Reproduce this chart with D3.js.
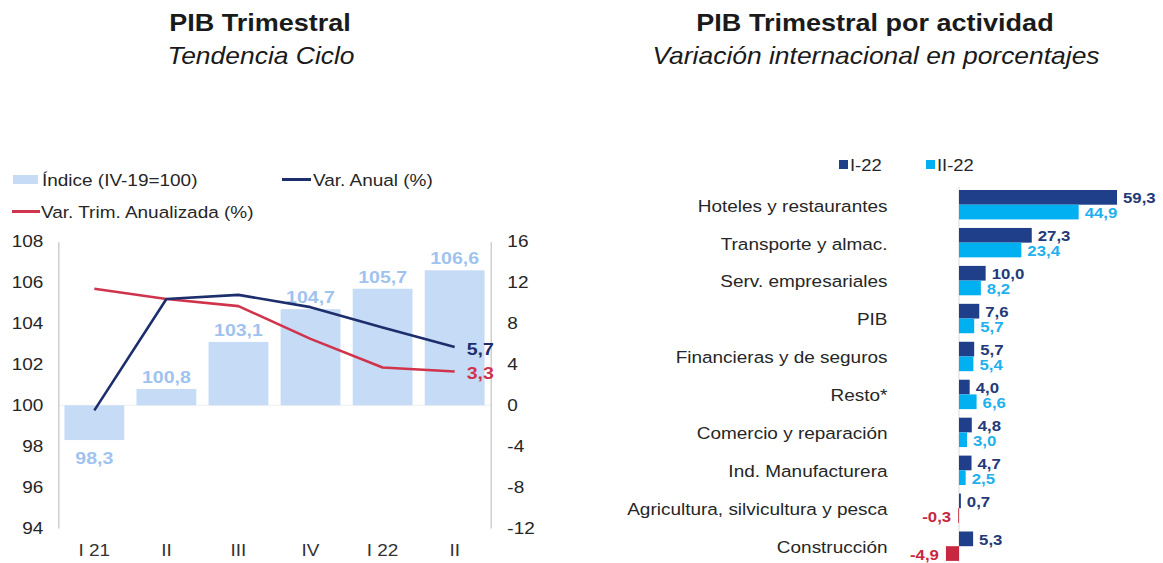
<!DOCTYPE html>
<html>
<head>
<meta charset="utf-8">
<script src="https://cdn.jsdelivr.net/npm/d3@7"></script>
<style>
  html, body { margin: 0; padding: 0; background: #ffffff; }
  svg { display: block; font-family: "Liberation Sans", Arial, sans-serif; }
</style>
</head>
<body>
<svg id="chart" width="1163" height="563"></svg>
<script>
// ---------- DATA ----------
const quarters = ["I 21", "II", "III", "IV", "I 22", "II"];
const indexValues = [98.3, 100.8, 103.1, 104.7, 105.7, 106.6];
const varAnual = [-0.5, 10.4, 10.8, 9.6, 7.6, 5.7];
const varTrimAnualizada = [11.4, 10.4, 9.7, 6.5, 3.7, 3.3];
const leftTicks = [94, 96, 98, 100, 102, 104, 106, 108];
const rightTicks = [-12, -8, -4, 0, 4, 8, 12, 16];

const activities = ["Hoteles y restaurantes", "Transporte y almac.", "Serv. empresariales", "PIB",
  "Financieras y de seguros", "Resto*", "Comercio y reparación", "Ind. Manufacturera",
  "Agricultura, silvicultura y pesca", "Construcción"];
const seriesI22 = [59.3, 27.3, 10.0, 7.6, 5.7, 4.0, 4.8, 4.7, 0.7, 5.3];
const seriesII22 = [44.9, 23.4, 8.2, 5.7, 5.4, 6.6, 3.0, 2.5, -0.3, -4.9];
const seriesNames = ["I-22", "II-22"];

// ---------- HELPERS ----------
const SX = 1.15; // horizontal stretch of the reference typography
const svg = d3.select("#chart");
const fmt = v => d3.format(".1f")(v).replace(".", ",").replace("−", "-");

function txt(g, x, y, s, o = {}) {
  return g.append("text")
    .attr("transform", `translate(${x},${y}) scale(${SX},1)`)
    .attr("text-anchor", o.anchor || "start")
    .attr("dominant-baseline", o.baseline || "auto")
    .attr("font-size", o.size || 16)
    .attr("font-weight", o.weight || "normal")
    .attr("font-style", o.style || "normal")
    .attr("fill", o.fill || "#262626")
    .text(s);
}

// ---------- TITLES ----------
txt(svg, 260, 31, "PIB Trimestral", {anchor: "middle", size: 23.5, weight: "bold", fill: "#1a1a1a"});
txt(svg, 261, 64, "Tendencia Ciclo", {anchor: "middle", size: 23, style: "italic", fill: "#1a1a1a"});
txt(svg, 875, 31, "PIB Trimestral por actividad", {anchor: "middle", size: 23.5, weight: "bold", fill: "#1a1a1a"});
txt(svg, 876, 64, "Variación internacional en porcentajes", {anchor: "middle", size: 23, style: "italic", fill: "#1a1a1a"});

// ---------- LEFT CHART ----------
const colBar = "#c6dbf5", colBarLbl = "#9fc3ef", colNavy = "#1c2e6b", colRed = "#d0344c";
const L = svg.append("g");
const x = d3.scaleBand().domain(d3.range(quarters.length)).range([58.3, 490.7]).paddingInner(0.17).paddingOuter(0.085);
const yL = d3.scaleLinear().domain([94, 108]).range([528, 241.7]);
const yR = d3.scaleLinear().domain([-12, 16]).range([528, 241.7]);

// legend
L.append("rect").attr("x", 13).attr("y", 175).attr("width", 25).attr("height", 9).attr("fill", colBar);
txt(L, 42, 180, "Índice (IV-19=100)", {size: 16.5, baseline: "central"});
L.append("line").attr("x1", 282).attr("x2", 311).attr("y1", 179.5).attr("y2", 179.5).attr("stroke", colNavy).attr("stroke-width", 3);
txt(L, 313, 180, "Var. Anual (%)", {size: 16.5, baseline: "central"});
L.append("line").attr("x1", 12).attr("x2", 40).attr("y1", 211.5).attr("y2", 211.5).attr("stroke", colRed).attr("stroke-width", 3);
txt(L, 41, 212, "Var. Trim. Anualizada (%)", {size: 16.5, baseline: "central"});

// baseline at 100
L.append("line").attr("x1", 58.3).attr("x2", 490.7).attr("y1", yL(100)).attr("y2", yL(100))
  .attr("stroke", "#f0f0f0").attr("stroke-width", 1);

// bars
L.selectAll("rect.bar").data(indexValues).join("rect").attr("class", "bar")
  .attr("x", (d, i) => x(i)).attr("width", x.bandwidth())
  .attr("y", d => yL(Math.max(d, 100))).attr("height", d => Math.abs(yL(d) - yL(100)))
  .attr("fill", colBar);

indexValues.forEach((d, i) => {
  const yy = d >= 100 ? yL(d) - 6 : yL(d) + 24;
  txt(L, x(i) + x.bandwidth() / 2, yy, fmt(d), {anchor: "middle", size: 17, weight: "bold", fill: colBarLbl});
});

// axes
const axL = d3.axisLeft(yL).tickValues(leftTicks).tickSize(0).tickPadding(13).tickFormat(d => String(d));
const gAxL = L.append("g").attr("transform", "translate(58.3,0)").call(axL);
const axR = d3.axisRight(yR).tickValues(rightTicks).tickSize(0).tickPadding(15).tickFormat(d => String(d));
const gAxR = L.append("g").attr("transform", "translate(490.7,0)").call(axR);
[gAxL, gAxR].forEach(g => {
  g.select(".domain").attr("stroke", "#c8c8c8").attr("stroke-width", 1.3);
  g.selectAll("text").attr("font-size", 16.5).attr("fill", "#262626")
    .attr("font-family", "Liberation Sans, Arial, sans-serif")
    .attr("transform", `scale(${SX},1)`);
});
gAxL.selectAll("text").attr("x", -13);
gAxR.selectAll("text").attr("x", 14.5);

const axB = d3.axisBottom(x).tickSize(0).tickFormat(i => quarters[i]);
const gAxB = L.append("g").attr("transform", "translate(0,543)").call(axB);
gAxB.select(".domain").remove();
gAxB.selectAll("text").attr("font-size", 16.5).attr("fill", "#333")
  .attr("font-family", "Liberation Sans, Arial, sans-serif").attr("dy", 0).attr("y", 0)
  .attr("dominant-baseline", "central").attr("transform", `translate(0,7) scale(${SX},1)`);

// lines
const cx = i => x(i) + x.bandwidth() / 2;
const lineGen = d3.line().x((d, i) => cx(i)).y(d => yR(d));
L.append("path").datum(varTrimAnualizada).attr("d", lineGen).attr("fill", "none")
  .attr("stroke", colRed).attr("stroke-width", 2.6).attr("stroke-linejoin", "round");
L.append("path").datum(varAnual).attr("d", lineGen).attr("fill", "none")
  .attr("stroke", colNavy).attr("stroke-width", 2.6).attr("stroke-linejoin", "round");

const last = quarters.length - 1;
txt(L, cx(last) + 12, yR(varAnual[last]) + 2, fmt(varAnual[last]), {size: 17, weight: "bold", fill: colNavy, baseline: "central"});
txt(L, cx(last) + 12, yR(varTrimAnualizada[last]) + 1, fmt(varTrimAnualizada[last]), {size: 17, weight: "bold", fill: colRed, baseline: "central"});

// ---------- RIGHT CHART ----------
const colDark = "#1f3f8a", colDarkLbl = "#243a78", colCyan = "#00b0f0", colCyanLbl = "#1fb1ee", colNeg = "#c8283f";
const R = svg.append("g");
const xb = d3.scaleLinear().domain([-5, 60]).range([959 - 5 * 2.665, 959 + 60 * 2.665]);
const yc = d3.scalePoint().domain(activities).range([205, 546.5]);
const ys = d3.scaleBand().domain(seriesNames).range([-15, 14.4]);

// legend
R.append("rect").attr("x", 839).attr("y", 160).attr("width", 9).attr("height", 9).attr("fill", colDark);
txt(R, 850, 165, "I-22", {size: 16, baseline: "central"});
R.append("rect").attr("x", 926).attr("y", 160).attr("width", 9).attr("height", 9).attr("fill", colCyan);
txt(R, 937, 165, "II-22", {size: 16, baseline: "central"});

// zero line
R.append("line").attr("x1", xb(0)).attr("x2", xb(0)).attr("y1", 187).attr("y2", 562)
  .attr("stroke", "#d9d9d9").attr("stroke-width", 1);

// category labels
activities.forEach(a => {
  txt(R, 887.5, yc(a) + 1, a, {anchor: "end", size: 16.5, baseline: "central", fill: "#262626"});
});

const series = [
  {name: seriesNames[0], values: seriesI22, fill: colDark, lbl: colDarkLbl},
  {name: seriesNames[1], values: seriesII22, fill: colCyan, lbl: colCyanLbl}
];
series.forEach(s => {
  s.values.forEach((v, i) => {
    const a = activities[i];
    const y0 = yc(a) + ys(s.name);
    R.append("rect")
      .attr("x", xb(Math.min(0, v))).attr("width", Math.max(0.8, Math.abs(xb(v) - xb(0))))
      .attr("y", y0).attr("height", ys.bandwidth())
      .attr("fill", v < 0 ? colNeg : s.fill);
    const ly = y0 + ys.bandwidth() / 2 + 1;
    if (v >= 0) {
      txt(R, xb(v) + 6, ly, fmt(v), {size: 14.6, weight: "bold", fill: s.lbl, baseline: "central"});
    } else {
      txt(R, xb(v) - 7, ly, fmt(v), {anchor: "end", size: 14.6, weight: "bold", fill: colNeg, baseline: "central"});
    }
  });
});
</script>
</body>
</html>
